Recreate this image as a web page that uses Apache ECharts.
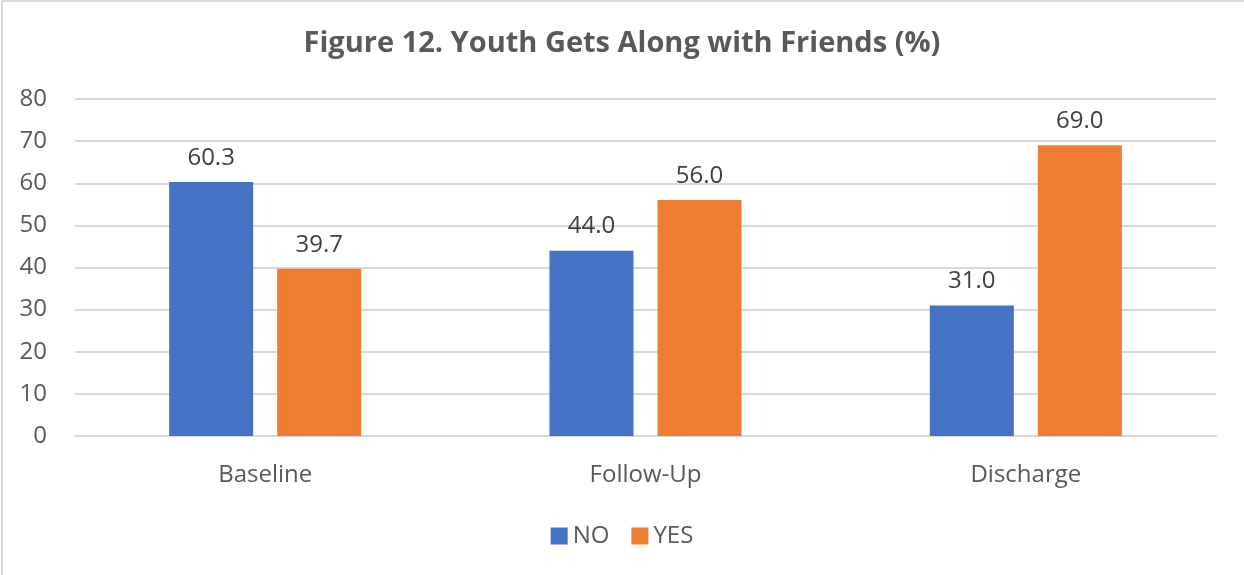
<!DOCTYPE html>
<html>
<head>
<meta charset="utf-8">
<style>
  html, body { margin: 0; padding: 0; background: #ffffff; }
  #chart { width: 1244px; height: 575px; }
</style>
<script src="https://cdn.jsdelivr.net/npm/echarts@6/dist/echarts.min.js"></script>
</head>
<body>
<div id="chart"></div>
<script>
// Survey waves and the share of youth answering NO / YES
const categories = ['Baseline', 'Follow-Up', 'Discharge'];
const noValues = [60.3, 44.0, 31.0];
const yesValues = [39.7, 56.0, 69.0];
const seriesNames = ['NO', 'YES'];
const titleText = 'Figure 12. Youth Gets Along with Friends (%)';

const FONT = 'Open Sans, Noto Sans, sans-serif';
const chart = echarts.init(document.getElementById('chart'), null, { renderer: 'canvas' });

const labelStyle = {
  show: true,
  position: 'top',
  distance: 12,
  color: '#404040',
  fontFamily: FONT,
  fontSize: 24,
  formatter: p => p.value.toFixed(1)
};

chart.setOption({
  animation: false,
  backgroundColor: '#ffffff',
  graphic: [
    // thin frame along the left and top edges
    { type: 'line', shape: { x1: 2, y1: 1, x2: 2, y2: 575 }, style: { stroke: '#d9d9d9', lineWidth: 2 } },
    { type: 'line', shape: { x1: 2, y1: 1, x2: 1244, y2: 1 }, style: { stroke: '#d9d9d9', lineWidth: 2 } }
  ],
  title: {
    text: titleText,
    left: 'center',
    top: 24,
    textStyle: { color: '#595959', fontFamily: FONT, fontSize: 29, fontWeight: 'bold' }
  },
  legend: {
    data: seriesNames,
    bottom: 22,
    left: 'center',
    itemWidth: 17,
    itemHeight: 17,
    itemGap: 22,
    icon: 'rect',
    textStyle: { color: '#595959', fontFamily: FONT, fontSize: 24 }
  },
  grid: { left: 75, right: 28, top: 99, bottom: 139, containLabel: false },
  xAxis: {
    type: 'category',
    data: categories,
    axisLine: { show: true, lineStyle: { color: '#d9d9d9', width: 2 } },
    axisTick: { show: false },
    axisLabel: { color: '#595959', fontFamily: FONT, fontSize: 24, margin: 27 }
  },
  yAxis: {
    type: 'value',
    min: 0,
    max: 80,
    interval: 10,
    axisLine: { show: false },
    axisTick: { show: false },
    axisLabel: { color: '#595959', fontFamily: FONT, fontSize: 24, margin: 28 },
    splitLine: { lineStyle: { color: '#d9d9d9', width: 2 } }
  },
  series: [
    {
      name: seriesNames[0],
      type: 'bar',
      data: noValues,
      barWidth: 84,
      barGap: '28.6%',
      itemStyle: { color: '#4472c4' },
      label: labelStyle
    },
    {
      name: seriesNames[1],
      type: 'bar',
      data: yesValues,
      barWidth: 84,
      itemStyle: { color: '#ed7d31' },
      label: labelStyle
    }
  ]
});
</script>
</body>
</html>
